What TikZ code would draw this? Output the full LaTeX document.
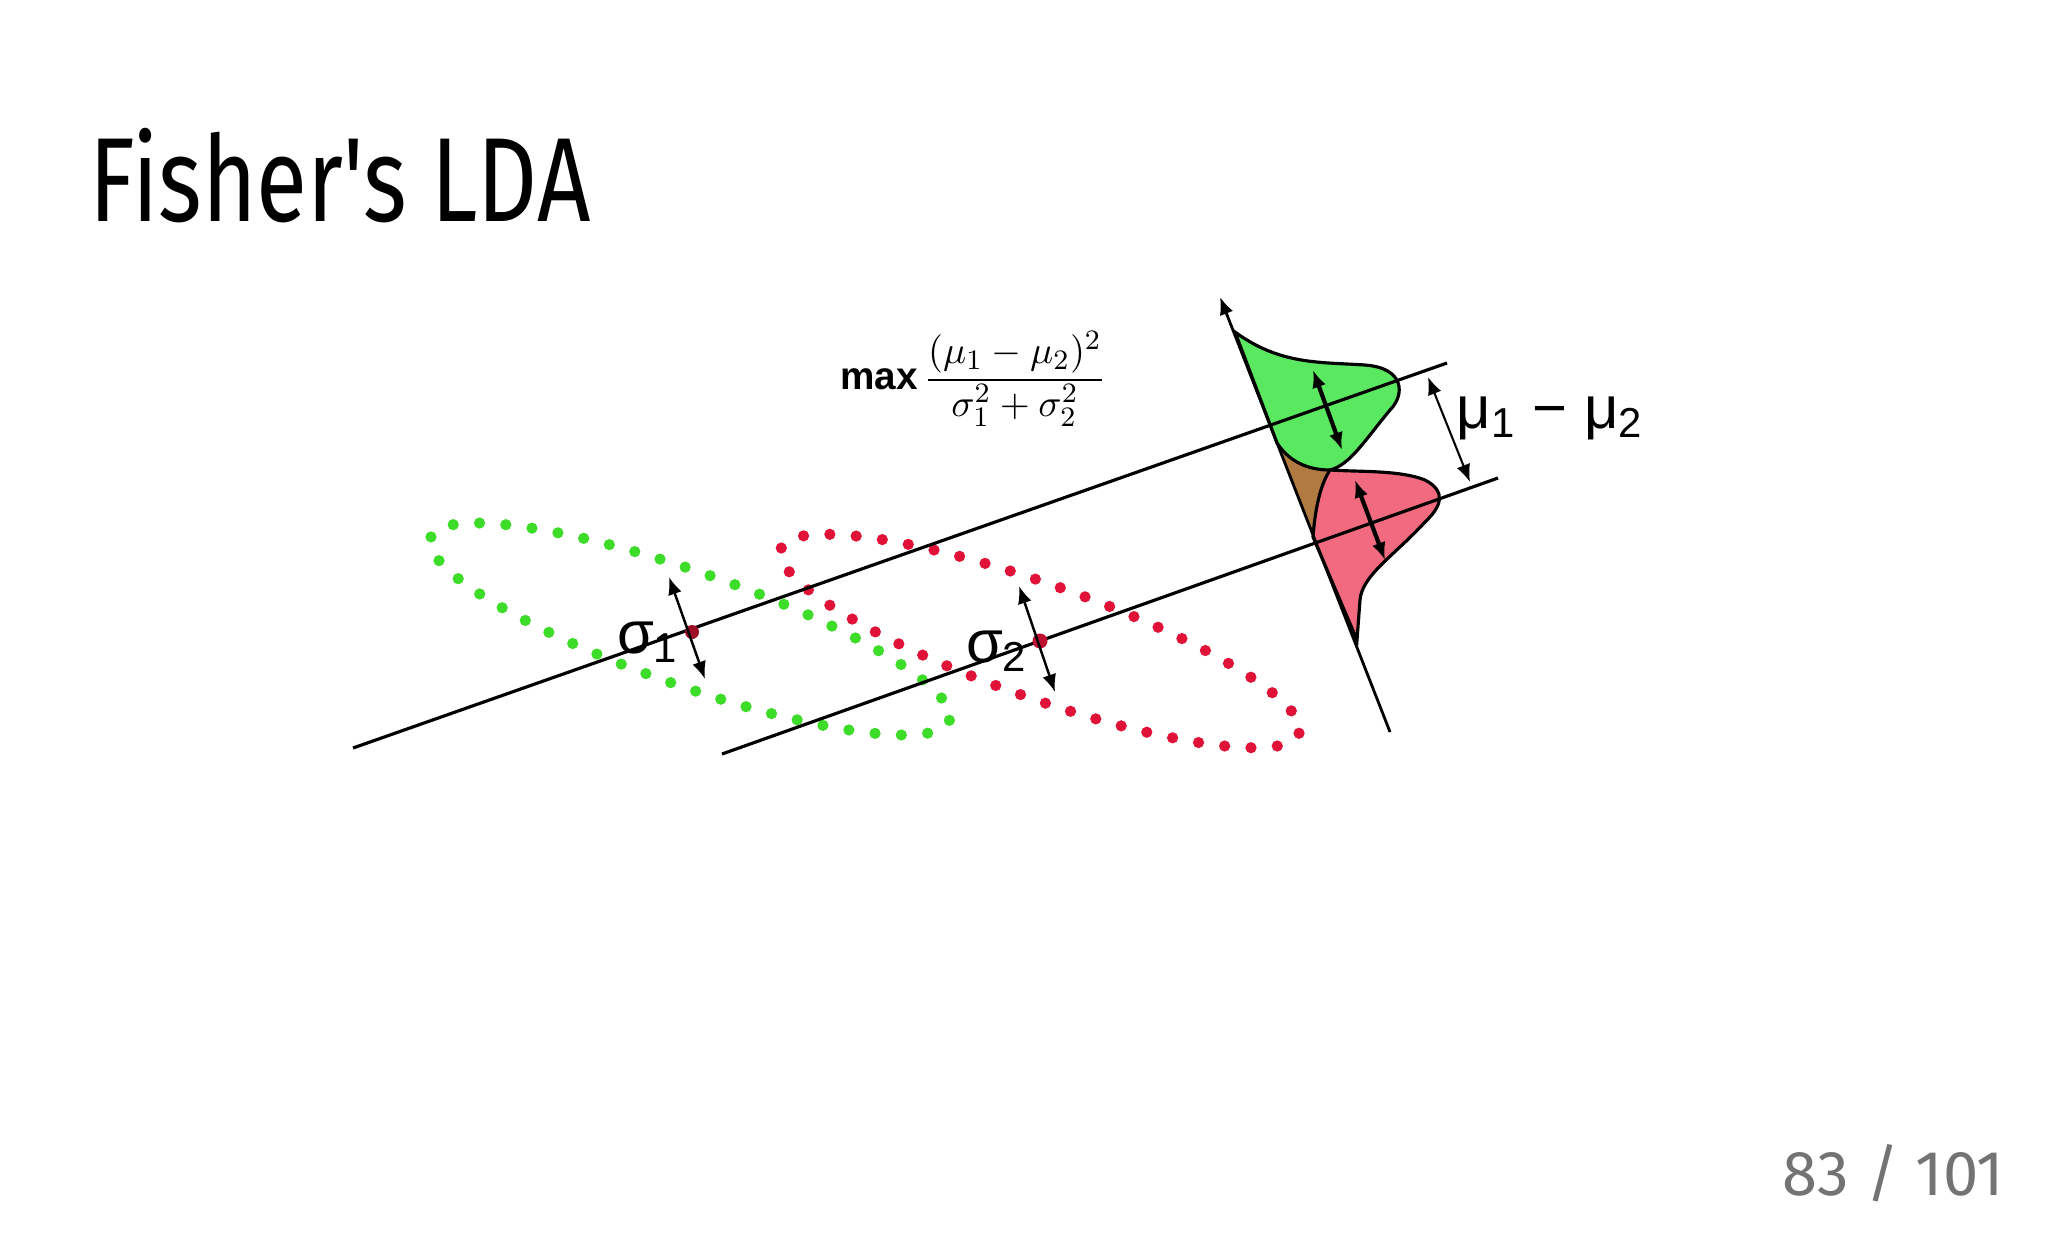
\documentclass[tikz,border=0pt]{standalone}
\usepackage{fontspec}
\setmainfont{Liberation Sans}
\newfontfamily\titlefont{Fira Sans}
\usetikzlibrary{arrows.meta}
\definecolor{gfill}{HTML}{5AE860}
\definecolor{rfill}{HTML}{F26A80}
\definecolor{bfill}{HTML}{B07A40}
\definecolor{gdot}{HTML}{3CDC28}
\definecolor{rdot}{HTML}{E01238}
\tikzset{
  proj/.style={black, line width=0.9pt},
  dbl/.style={{Latex[length=5pt,width=4pt]}-{Latex[length=5pt,width=4pt]}, line width=0.9pt},
  dots/.style={line width=3.2pt, dash pattern=on 0pt off 7.5pt, line cap=round},
  lbl/.style={font=\fontsize{17}{20}\selectfont, inner sep=0pt},
  distr/.style={draw=black, line width=0.9pt},
}
\begin{document}
\begin{tikzpicture}[x=0.01cm,y=-0.01cm]
\useasboundingbox[fill=white] (0,0) rectangle (2048,1236);
\node[anchor=north west, inner sep=0pt, xscale=0.78, font=\titlefont\fontsize{34}{40}\selectfont] (title) at (89,128) {Fisher's LDA};
% ellipses
\draw[dots, gdot] (690,629) ellipse [x radius=275, y radius=57, rotate=-19.4];
\draw[dots, rdot] (1040,641) ellipse [x radius=275, y radius=57, rotate=-19.6];
% distributions
\fill[bfill] (1277,443) .. controls (1285,455) and (1300,470) .. (1330,470) .. controls (1320,485) and (1315,510) .. (1313,537) -- cycle;
\filldraw[distr, fill=gfill] (1235,332) .. controls (1280,365) and (1320,362) .. (1365,365) .. controls (1405,368) and (1405,395) .. (1390,410) .. controls (1365,440) and (1350,465) .. (1330,470) .. controls (1300,470) and (1285,455) .. (1277,443) -- cycle;
\filldraw[distr, fill=rfill] (1330,470) .. controls (1360,472) and (1400,470) .. (1425,480) .. controls (1448,492) and (1440,508) .. (1425,522) .. controls (1395,555) and (1362,575) .. (1360,600) -- (1357,640) -- (1313,537) .. controls (1315,510) and (1320,485) .. (1330,470) -- cycle;
% axis
\coordinate (axtop) at (1220,297);
\coordinate (axbot) at (1390,732);
\draw[-{Latex[length=5pt,width=4pt]}, line width=0.8pt] (axbot) -- (axtop);
% projection lines
\coordinate (l1a) at (353,748); \coordinate (l1b) at (1447,363);
\coordinate (l2a) at (722,754); \coordinate (l2b) at (1498,478);
\draw[proj] (l1a) -- (l1b);
\draw[proj] (l2a) -- (l2b);
% means
\fill[rdot!70!black] (692,632) circle (7);
\fill[rdot!85!black] (1040,641) circle (7.5);
% sigma arrows
\coordinate (s1a) at (669,577); \coordinate (s1b) at (705,679);
\coordinate (s2a) at (1019,586); \coordinate (s2b) at (1055,692);
\draw[dbl, line width=0.7pt] (s1a) -- (s1b);
\draw[dbl, line width=0.7pt] (s2a) -- (s2b);
\coordinate (g1) at (1313,370); \coordinate (g2) at (1342,450);
\coordinate (r1) at (1355,480); \coordinate (r2) at (1385,560);
\draw[dbl, line width=1.2pt] (g1) -- (g2);
\draw[dbl, line width=1.2pt] (r1) -- (r2);
\coordinate (m1) at (1428,377); \coordinate (m2) at (1470,482);
\draw[dbl, line width=0.6pt] (m1) -- (m2);
% labels
\node[lbl] (sig1) at (648,642) {σ\textsubscript{1}};
\node[lbl] (sig2) at (997,651) {σ\textsubscript{2}};
\node[lbl, anchor=west] (mu) at (1456,418) {μ\textsubscript{1} − μ\textsubscript{2}};
\node[font=\fontsize{11}{13}\selectfont, inner sep=0pt] (formula) at (973,379) {$\mathbf{max}\,\displaystyle\frac{(\mu_1-\mu_2)^2}{\sigma_1^2+\sigma_2^2}$};
\node[anchor=south east, inner sep=0pt, text=black!55, font=\titlefont\fontsize{18}{20}\selectfont] (page) at (2005,1203) {83 / 101};
\end{tikzpicture}
\end{document}
